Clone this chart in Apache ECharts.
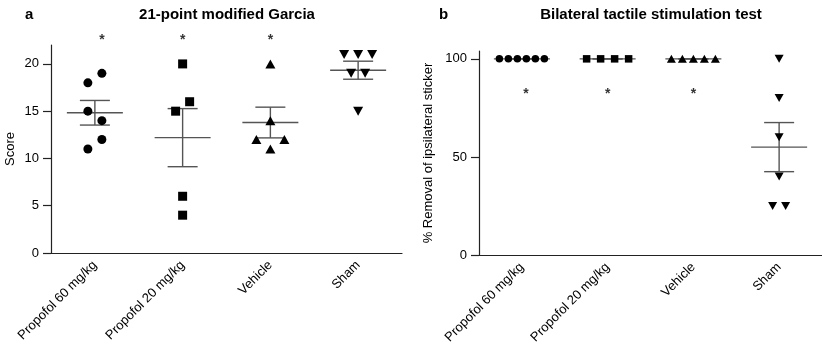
<!DOCTYPE html>
<html>
<head>
<meta charset="utf-8">
<script src="https://cdn.jsdelivr.net/npm/echarts@6/dist/echarts.min.js"></script>
<style>html,body{margin:0;padding:0;background:#fff}#chart{width:822px;height:350px}</style>
</head>
<body>
<div id="chart"></div>
<script>
var groups = ['Propofol 60 mg/kg', 'Propofol 20 mg/kg', 'Vehicle', 'Sham'];

// panel a - 21-point modified Garcia
var garciaP60 = [18, 19, 15, 14, 11, 12];
var garciaP20 = [20, 15, 16, 6, 4];
var garciaVeh = [20, 14, 12, 11, 12];
var garciaSham = [21, 21, 21, 19, 19, 15];
var garciaStars = [22.5, 22.5, 22.5, null];
var garciaTicks = [0, 5, 10, 15, 20];

// panel b - bilateral tactile stimulation
var tactileP60 = [100, 100, 100, 100, 100, 100];
var tactileP20 = [100, 100, 100, 100];
var tactileVeh = [100, 100, 100, 100, 100];
var tactileSham = [100, 80, 60, 40, 25, 25];
var tactileStars = [82, 82, 82, null];
var tactileTicks = [0, 50, 100];

var font = 'Liberation Sans, Arial, sans-serif';
var ink = '#000';
var barColor = '#555';

// spread points with (nearly) equal values side by side, like a dot plot
function swarm(vals, idx, near, gap) {
  var clusters = [];
  var where = vals.map(function (v) {
    for (var c = 0; c < clusters.length; c++) {
      if (clusters[c].some(function (u) { return Math.abs(u - v) <= near; })) {
        clusters[c].push(v);
        return [c, clusters[c].length - 1];
      }
    }
    clusters.push([v]);
    return [clusters.length - 1, 0];
  });
  return vals.map(function (v, i) {
    var n = clusters[where[i][0]].length;
    return { value: [idx, v], symbolOffset: [(where[i][1] - (n - 1) / 2) * gap, 0] };
  });
}

function meanSem(vals, idx) {
  var n = vals.length;
  var m = vals.reduce(function (a, b) { return a + b; }, 0) / n;
  var ss = vals.reduce(function (a, b) { return a + (b - m) * (b - m); }, 0);
  var sem = Math.sqrt(ss / (n - 1)) / Math.sqrt(n);
  return [idx, m, m - sem, m + sem];
}

function renderBars(params, api) {
  var c = api.coord([api.value(0), api.value(1)]);
  var lo = api.coord([api.value(0), api.value(2)]);
  var hi = api.coord([api.value(0), api.value(3)]);
  var st = { stroke: barColor, lineWidth: 1.4 };
  var x = c[0];
  return {
    type: 'group',
    children: [
      { type: 'line', shape: { x1: x - 28, y1: c[1], x2: x + 28, y2: c[1] }, style: st },
      { type: 'line', shape: { x1: x, y1: lo[1], x2: x, y2: hi[1] }, style: st },
      { type: 'line', shape: { x1: x - 15, y1: lo[1], x2: x + 15, y2: lo[1] }, style: st },
      { type: 'line', shape: { x1: x - 15, y1: hi[1], x2: x + 15, y2: hi[1] }, style: st }
    ]
  };
}

var symbols = ['circle', 'rect', 'triangle', 'triangle'];
var rotations = [0, 0, 0, 180];

function dotSeries(sets, axis, sizes, near, gaps) {
  return sets.map(function (vals, i) {
    return {
      type: 'scatter',
      xAxisIndex: axis, yAxisIndex: axis,
      symbol: symbols[i],
      symbolRotate: rotations[i],
      symbolSize: sizes[i],
      itemStyle: { color: ink, opacity: 1 },
      z: 4,
      data: swarm(vals, i, near, gaps[i])
    };
  });
}

function starSeries(vals, axis, shift) {
  return {
    type: 'scatter',
    xAxisIndex: axis, yAxisIndex: axis,
    symbolSize: 1,
    clip: false,
    itemStyle: { color: 'rgba(0,0,0,0)' },
    label: { show: true, position: 'inside', formatter: '*', color: ink, fontSize: 14, fontWeight: 'bold', fontFamily: font },
    data: vals.map(function (v, i) {
      return v == null ? null : { value: [i, v], label: { offset: [i === 0 ? shift : 0, 0] } };
    }).filter(function (d) { return d; })
  };
}

function xAxisOf(idx) {
  return {
    type: 'category', gridIndex: idx, data: groups,
    axisLine: { lineStyle: { color: '#222', width: 1.2 } },
    axisTick: { alignWithLabel: true, length: 7, lineStyle: { color: '#222', width: 1.2 } },
    axisLabel: { rotate: 45, fontSize: 13, color: ink, fontFamily: font, margin: 10, interval: 0 }
  };
}

function yAxisOf(idx, max, ticks, name, gap) {
  return {
    type: 'value', gridIndex: idx, min: 0, max: max,
    name: name, nameLocation: 'middle', nameGap: gap,
    nameTextStyle: { fontSize: 13, color: ink, fontFamily: font },
    axisLine: { show: true, lineStyle: { color: '#222', width: 1.2 } },
    axisTick: { show: true, length: 8, customValues: ticks, lineStyle: { color: '#222', width: 1.2 } },
    axisLabel: { fontSize: 13, color: ink, fontFamily: font, margin: 12, customValues: ticks },
    splitLine: { show: false }
  };
}

var garciaSets = [garciaP60, garciaP20, garciaVeh, garciaSham];
var tactileSets = [tactileP60, tactileP20, tactileVeh, tactileSham];

var myChart = echarts.init(document.getElementById('chart'));
var titleStyle = { fontSize: 15, fontWeight: 'bold', color: ink, fontFamily: font };
var option = {
  animation: false,
  title: [
    { text: 'a', left: 20, top: 2, textStyle: titleStyle },
    { text: '21-point modified Garcia', left: 222, textAlign: 'center', top: 2, textStyle: titleStyle },
    { text: 'b', left: 434, top: 2, textStyle: titleStyle },
    { text: 'Bilateral tactile stimulation test', left: 646, textAlign: 'center', top: 2, textStyle: titleStyle }
  ],
  grid: [
    { left: 51, top: 45, width: 351, height: 208 },
    { left: 479, top: 51, width: 343, height: 204 }
  ],
  xAxis: [xAxisOf(0), xAxisOf(1)],
  yAxis: [
    yAxisOf(0, 22, garciaTicks, 'Score', 34),
    yAxisOf(1, 104, tactileTicks, '% Removal of ipsilateral sticker', 44)
  ],
  series: [
    {
      type: 'custom', xAxisIndex: 0, yAxisIndex: 0, z: 2,
      renderItem: renderBars,
      data: garciaSets.map(meanSem)
    },
    {
      type: 'custom', xAxisIndex: 1, yAxisIndex: 1, z: 2,
      renderItem: renderBars,
      data: tactileSets.map(meanSem)
    },
    starSeries(garciaStars, 0, 7),
    starSeries(tactileStars, 1, 4)
  ]
    .concat(dotSeries(garciaSets, 0, [9, 9, [10, 9], [10, 9]], 1, [14, 14, 14, 14]))
    .concat(dotSeries(tactileSets, 1, [7.5, 7.5, [9, 8], [9, 8]], 0, [9, 14, 11, 13]))
};
myChart.setOption(option);
</script>
</body>
</html>
